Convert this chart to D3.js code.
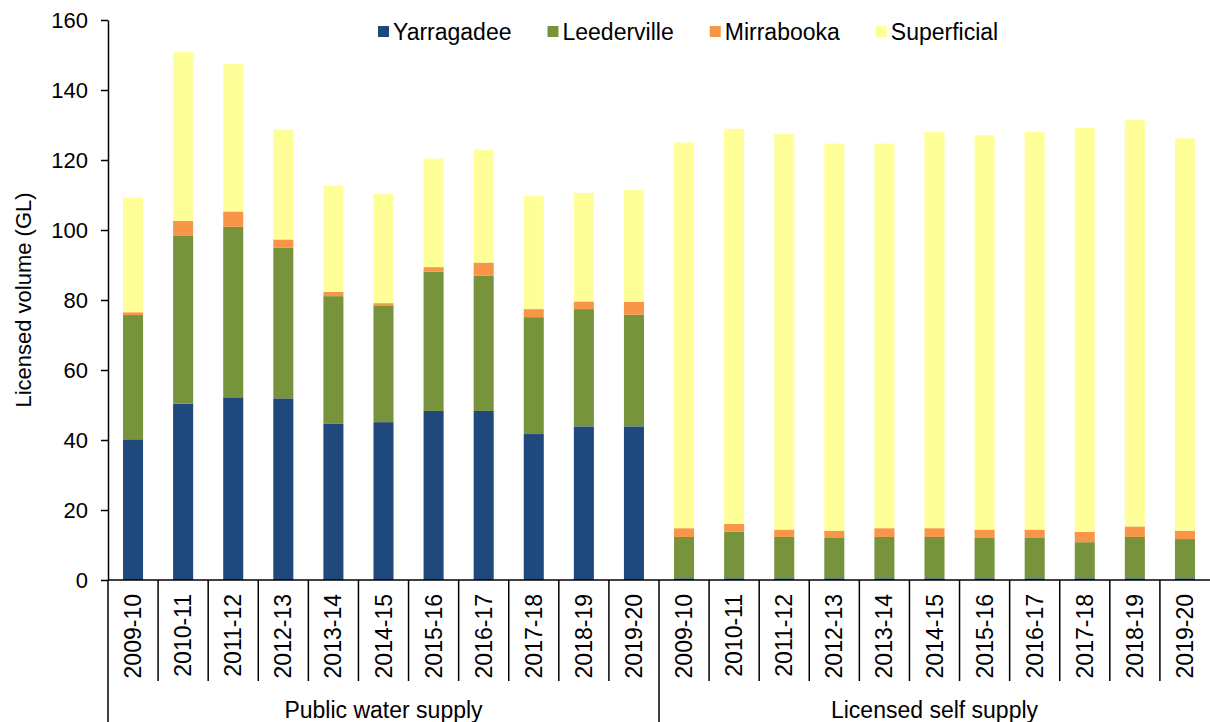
<!DOCTYPE html>
<html><head><meta charset="utf-8">
<script src="https://cdn.jsdelivr.net/npm/d3@7"></script>
<style>
body{margin:0;background:#fff}
svg{display:block}
text{font-family:"Liberation Sans",Arial,sans-serif;fill:#000}
</style>
</head><body>
<svg id="c" width="1210" height="722"></svg>
<script>
const years = ["2009-10","2010-11","2011-12","2012-13","2013-14","2014-15","2015-16","2016-17","2017-18","2018-19","2019-20"];
const groups = ["Public water supply","Licensed self supply"];
const seriesNames = ["Yarragadee","Leederville","Mirrabooka","Superficial"];
const seriesColors = ["#1F497D","#77933C","#F79646","#FFFF99"];
const yTicks = [0,20,40,60,80,100,120,140,160];

// segment values (GL), public water supply then licensed self supply
const yarragadee  = [40.2,50.4,52.2,51.9,44.6,45.1,48.3,48.3,41.7,43.9,43.9,
                     0.5,0.5,0.5,0.5,0.5,0.5,0.5,0.5,0.5,0.5,0.5];
const leederville = [35.5,47.9,48.7,43.0,36.5,33.2,39.8,38.6,33.4,33.5,31.9,
                     11.8,13.3,11.8,11.5,11.8,11.8,11.5,11.5,10.3,11.8,11.2];
const mirrabooka  = [0.8,4.3,4.4,2.4,1.2,0.8,1.3,3.8,2.3,2.2,3.7,
                     2.5,2.2,2.1,2.1,2.5,2.5,2.4,2.4,3.0,3.0,2.4];
const superficial = [32.8,48.2,42.1,31.4,30.4,31.2,31.0,32.2,32.3,31.0,31.9,
                     110.2,112.9,113.0,110.6,109.9,113.2,112.7,113.7,115.3,116.1,112.1];

(function () {
const seriesData = [yarragadee, leederville, mirrabooka, superficial];
const rows = [];
groups.forEach((g, gi) => years.forEach((yr, yi) => {
  const i = gi * years.length + yi;
  const r = {i, group: g, year: yr};
  seriesNames.forEach((s, si) => r[s] = seriesData[si][i]);
  rows.push(r);
}));

const svg = d3.select("#c");
const mLeft = 108, mRight = 1210, mTop = 20, mBase = 580, mBottom = 722;

const x = d3.scaleBand().domain(d3.range(rows.length)).range([mLeft, mRight])
  .paddingInner(0.6).paddingOuter(0.3);
const slot = d3.scaleBand().domain(d3.range(rows.length)).range([mLeft, mRight]).padding(0);
const y = d3.scaleLinear().domain([0, 160]).range([mBase, mTop]);
const color = d3.scaleOrdinal().domain(seriesNames).range(seriesColors);

const stacked = d3.stack().keys(seriesNames)(rows);

svg.append("g").selectAll("g").data(stacked).join("g")
  .attr("fill", d => color(d.key))
  .selectAll("rect").data(d => d).join("rect")
  .attr("x", d => x(d.data.i))
  .attr("width", x.bandwidth())
  .attr("y", d => y(d[1]))
  .attr("height", d => y(d[0]) - y(d[1]));

// y axis
const yAxis = d3.axisLeft(y).tickValues(yTicks).tickSize(7).tickSizeOuter(0).tickPadding(13);
const yg = svg.append("g").attr("transform", `translate(${mLeft},0)`).call(yAxis);
yg.select(".domain").attr("stroke", "#000").attr("stroke-width", 1.5);
yg.selectAll(".tick line").attr("stroke", "#000").attr("stroke-width", 1.5);
yg.selectAll(".tick text").style("font-size", "22px").style("font-family", '"Liberation Sans",Arial,sans-serif').attr("fill", "#000");

svg.append("text")
  .attr("transform", `translate(31,${(mTop + mBase) / 2}) rotate(-90)`)
  .attr("text-anchor", "middle")
  .style("font-size", "22px")
  .text("Licensed volume (GL)");

// x axis baseline
svg.append("line").attr("x1", mLeft).attr("x2", mRight).attr("y1", mBase).attr("y2", mBase)
  .attr("stroke", "#000").attr("stroke-width", 1.5);
svg.append("line").attr("x1", mLeft).attr("x2", mLeft).attr("y1", mBase).attr("y2", mBottom)
  .attr("stroke", "#000").attr("stroke-width", 1.5);

// category separators
const nPer = years.length;
d3.range(1, rows.length).forEach(k => {
  const xx = slot(k);
  const isGroup = k % nPer === 0;
  svg.append("line").attr("x1", xx).attr("x2", xx).attr("y1", mBase)
    .attr("y2", isGroup ? mBottom : 681)
    .attr("stroke", "#000").attr("stroke-width", 1.5);
});

// category labels
svg.append("g").selectAll("text").data(rows).join("text")
  .attr("transform", d => `translate(${slot(d.i) + slot.bandwidth() / 2 + 8},594) rotate(-90)`)
  .attr("text-anchor", "end")
  .style("font-size", "23px")
  .text(d => d.year);

// group labels
groups.forEach((g, gi) => {
  const x0 = slot(gi * nPer), x1 = gi === groups.length - 1 ? mRight : slot((gi + 1) * nPer);
  svg.append("text").attr("x", (x0 + x1) / 2).attr("y", 718)
    .attr("text-anchor", "middle").style("font-size", "23px").text(g);
});

// legend
const lg = svg.append("g");
let lx = 378;
seriesNames.forEach(s => {
  lg.append("rect").attr("x", lx).attr("y", 26).attr("width", 11).attr("height", 11).attr("fill", color(s));
  const t = lg.append("text").attr("x", lx + 15).attr("y", 39.5).style("font-size", "23px").text(s);
  lx += 15 + t.node().getComputedTextLength() + 36;
});
})();
</script>
</body></html>
